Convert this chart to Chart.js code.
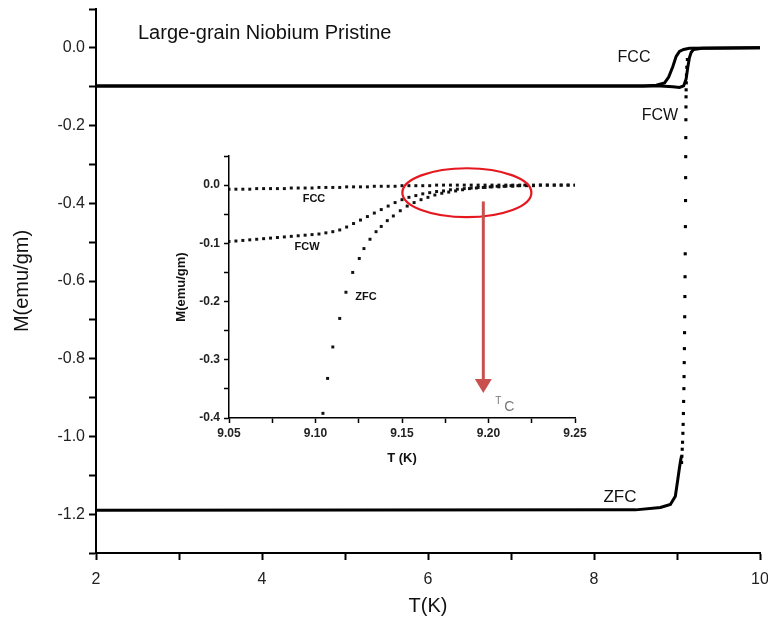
<!DOCTYPE html>
<html>
<head>
<meta charset="utf-8">
<title>Large-grain Niobium Pristine</title>
<script src="https://cdn.jsdelivr.net/npm/chart.js@4.4.1/dist/chart.umd.min.js"></script>
<style>
  body { margin: 0; background: #fff; }
  #wrap { position: relative; width: 768px; height: 622px; background: #fff; }
  #mainChart { position: absolute; left: 0; top: 0; }
  #insetChart { position: absolute; left: 160px; top: 146px; }
</style>
</head>
<body>
<div id="wrap">
  <canvas id="mainChart" width="768" height="622"></canvas>
  <canvas id="insetChart" width="430" height="330"></canvas>
</div>
<script>
// Main plot: M vs T, 2 - 10 K
const mainFccT = [2, 8.6, 8.75, 8.85, 8.9, 8.95, 8.99, 9.03, 9.08, 9.15, 10];
const mainFccM = [-0.098, -0.098, -0.096, -0.09, -0.075, -0.048, -0.022, -0.009, -0.004, -0.001, 0];
const mainFcwT = [2, 8.8, 8.95, 9.03, 9.08, 9.11, 9.13, 9.15, 9.17, 9.2, 9.3, 10];
const mainFcwM = [-0.098, -0.098, -0.1, -0.102, -0.098, -0.08, -0.05, -0.025, -0.012, -0.004, -0.001, 0];
const mainZfcT = [2, 8.5, 8.8, 8.92, 8.98, 9.01, 9.03, 9.045, 9.055];
const mainZfcM = [-1.19, -1.189, -1.183, -1.175, -1.154, -1.11, -1.08, -1.06, -1.05];
// sparse points of the ZFC jump
const zfcJumpT = [9.125, 9.118, 9.114, 9.112, 9.110, 9.109, 9.108, 9.107, 9.106, 9.105, 9.104, 9.103, 9.101, 9.099,
  9.097, 9.095, 9.093, 9.091, 9.089, 9.087, 9.085, 9.083, 9.080, 9.077, 9.074, 9.071, 9.067, 9.063, 9.059, 9.055];
const zfcJumpM = [-0.03, -0.05, -0.07, -0.09, -0.108, -0.126, -0.152, -0.185, -0.231, -0.28, -0.334, -0.393, -0.46, -0.53,
  -0.589, -0.64, -0.692, -0.733, -0.774, -0.81, -0.846, -0.877, -0.91, -0.941, -0.969, -0.992, -1.015, -1.033, -1.051, -1.067];

// Inset: 9.05 - 9.25 K
const insetT = [9.050, 9.054, 9.058, 9.062, 9.066, 9.070, 9.074, 9.078, 9.082, 9.086, 9.090, 9.094, 9.098,
  9.102, 9.106, 9.110, 9.114, 9.118, 9.122, 9.126, 9.130, 9.134, 9.138, 9.142, 9.146, 9.150, 9.154, 9.158,
  9.162, 9.166, 9.170, 9.174, 9.178, 9.182, 9.186, 9.190, 9.194, 9.198, 9.202, 9.206, 9.210, 9.214, 9.218,
  9.222, 9.226, 9.230, 9.234, 9.238, 9.242, 9.246, 9.250];
const insetFccM = [-0.007, -0.007, -0.007, -0.007, -0.006, -0.006, -0.006, -0.006, -0.006, -0.005, -0.005, -0.005, -0.005,
  -0.004, -0.004, -0.004, -0.004, -0.003, -0.003, -0.003, -0.003, -0.002, -0.002, -0.002, -0.002, -0.001, -0.001, -0.001,
  -0.001, -0.001, 0, 0, 0, 0, 0, 0, 0, 0, 0, 0, 0, 0, 0,
  0, 0, 0, 0, 0, 0, 0, 0];
const insetFcwM = [-0.097, -0.096, -0.095, -0.094, -0.093, -0.092, -0.091, -0.09, -0.089, -0.088, -0.087, -0.086, -0.085,
  -0.084, -0.082, -0.08, -0.077, -0.072, -0.066, -0.06, -0.054, -0.048, -0.042, -0.036, -0.03, -0.025, -0.021, -0.018,
  -0.015, -0.013, -0.011, -0.01, -0.008, -0.007, -0.006, -0.005, -0.004, -0.004, -0.003, -0.003, -0.002, -0.002, -0.001,
  -0.001, -0.001, 0, 0, 0, 0, 0, 0];
const insetZfcT = [9.1043, 9.107, 9.110, 9.114, 9.1176, 9.1215, 9.1253, 9.128, 9.1315, 9.135, 9.138, 9.1415, 9.145,
  9.149, 9.153, 9.157, 9.161, 9.165, 9.169, 9.173, 9.177, 9.181, 9.185, 9.189, 9.193, 9.197, 9.201, 9.205, 9.209,
  9.213, 9.217, 9.221];
const insetZfcM = [-0.392, -0.332, -0.278, -0.229, -0.184, -0.15, -0.126, -0.109, -0.093, -0.08, -0.071, -0.061, -0.053,
  -0.044, -0.036, -0.03, -0.025, -0.021, -0.017, -0.014, -0.012, -0.01, -0.008, -0.006, -0.005, -0.004, -0.003, -0.002, -0.002,
  -0.001, -0.001, 0];

// Tc marker (inset data units)
const tcT = 9.197;
const tcArrowFrom = -0.028;
const tcArrowTo = -0.357;
const ringCenter = { x: 9.1875, y: -0.013 };
const ringRadius = { x: 0.0373, y: 0.042 };

const FONT = '"Liberation Sans", Arial, sans-serif';

function pts(xs, ys) {
  return xs.map((x, i) => ({ x: x, y: ys[i] }));
}

function axisStyle(tickLen, width) {
  return {
    border: { display: true, color: '#000', width: width },
    grid: { drawOnChartArea: false, drawTicks: true, tickLength: tickLen, tickColor: '#000', tickWidth: width }
  };
}

// fixed axis box so the plot area sits where the original has it
function fixX(h) {
  return s => { s.height = h; s.paddingLeft = 0; s.paddingRight = 0; };
}
function fixY(w) {
  return s => { s.width = w; s.paddingTop = 0; s.paddingBottom = 0; };
}

// text on the main plot
const mainLabels = {
  id: 'mainLabels',
  afterDraw(chart) {
    const c = chart.ctx;
    c.save();
    c.fillStyle = '#111';
    c.textBaseline = 'middle';
    c.textAlign = 'left';
    c.font = '20px ' + FONT;
    c.fillText('Large-grain Niobium Pristine', 138, 33);
    c.textAlign = 'center';
    c.font = '16px ' + FONT;
    c.fillText('FCC', 634, 58);
    c.fillText('FCW', 660, 116);
    c.font = '17px ' + FONT;
    c.fillText('ZFC', 620, 497);
    c.restore();
  }
};

new Chart(document.getElementById('mainChart'), {
  type: 'scatter',
  data: {
    datasets: [
      { data: pts(mainFccT, mainFccM), showLine: true, borderColor: '#000', borderWidth: 3, pointRadius: 0 },
      { data: pts(mainFcwT, mainFcwM), showLine: true, borderColor: '#000', borderWidth: 3, pointRadius: 0 },
      { data: pts(mainZfcT, mainZfcM), showLine: true, borderColor: '#000', borderWidth: 3, pointRadius: 0 },
      { data: pts(zfcJumpT, zfcJumpM), showLine: false, pointStyle: 'rect', pointRadius: 2.2,
        backgroundColor: '#000', borderWidth: 0 }
    ]
  },
  options: {
    responsive: false,
    animation: false,
    layout: { padding: { top: 9, right: 8, left: 0, bottom: 0 } },
    plugins: { legend: { display: false }, tooltip: { enabled: false } },
    scales: {
      x: Object.assign(axisStyle(7, 2), {
        min: 2, max: 10,
        afterFit: fixX(69),
        ticks: {
          stepSize: 1, maxRotation: 0, padding: 10, color: '#222',
          font: { family: FONT, size: 16 },
          callback: v => (v % 2 === 0 ? String(v) : '')
        },
        title: { display: true, text: 'T(K)', color: '#111', font: { family: FONT, size: 20 }, padding: { top: 2, bottom: 4 } }
      }),
      y: Object.assign(axisStyle(7, 2), {
        min: -1.3, max: 0.1,
        afterFit: fixY(96),
        ticks: {
          stepSize: 0.1, padding: 4, color: '#222',
          font: { family: FONT, size: 16 },
          callback: v => (Math.round(v * 10) % 2 === 0 ? v.toFixed(1) : '')
        },
        title: { display: true, text: 'M(emu/gm)', color: '#111', font: { family: FONT, size: 20 }, padding: { top: 10, bottom: 0 } }
      })
    }
  },
  plugins: [mainLabels]
});

// ring, arrow and labels on the inset
const insetMarks = {
  id: 'insetMarks',
  afterDatasetsDraw(chart) {
    const c = chart.ctx;
    const x = chart.scales.x, y = chart.scales.y;
    c.save();
    // red ring
    const cx = x.getPixelForValue(ringCenter.x), cy = y.getPixelForValue(ringCenter.y);
    const rx = x.getPixelForValue(ringCenter.x + ringRadius.x) - cx;
    const ry = cy - y.getPixelForValue(ringCenter.y + ringRadius.y);
    c.strokeStyle = '#e5171f';
    c.lineWidth = 2.2;
    c.beginPath();
    c.ellipse(cx, cy, rx, ry, 0, 0, Math.PI * 2);
    c.stroke();
    // Tc arrow
    const ax = x.getPixelForValue(tcT);
    const y0 = y.getPixelForValue(tcArrowFrom), y1 = y.getPixelForValue(tcArrowTo);
    c.strokeStyle = '#c8504f';
    c.fillStyle = '#c8504f';
    c.lineWidth = 3;
    c.beginPath();
    c.moveTo(ax, y0);
    c.lineTo(ax, y1 - 12);
    c.stroke();
    c.beginPath();
    c.moveTo(ax - 8.5, y1 - 14);
    c.lineTo(ax + 8.5, y1 - 14);
    c.lineTo(ax, y1);
    c.closePath();
    c.fill();
    // Tc text
    c.fillStyle = '#777';
    c.textBaseline = 'middle';
    c.textAlign = 'left';
    c.font = '10px ' + FONT;
    c.fillText('T', ax + 12, y1 + 8);
    c.font = '14px ' + FONT;
    c.fillText('C', ax + 21, y1 + 14);
    // curve labels
    c.fillStyle = '#111';
    c.textAlign = 'center';
    c.font = 'bold 11px ' + FONT;
    c.fillText('FCC', 154, 53);
    c.fillText('FCW', 147, 101);
    c.fillText('ZFC', 206, 151);
    c.restore();
  }
};

const dotStyle = { showLine: false, pointStyle: 'rect', pointRadius: 2.1, backgroundColor: '#111', borderWidth: 0 };

new Chart(document.getElementById('insetChart'), {
  type: 'scatter',
  data: {
    datasets: [
      Object.assign({ data: pts(insetT, insetFccM) }, dotStyle),
      Object.assign({ data: pts(insetT, insetFcwM) }, dotStyle),
      Object.assign({ data: pts(insetZfcT, insetZfcM) }, dotStyle)
    ]
  },
  options: {
    responsive: false,
    animation: false,
    layout: { padding: { top: 10, right: 15, left: 0, bottom: 0 } },
    plugins: { legend: { display: false }, tooltip: { enabled: false } },
    scales: {
      x: Object.assign(axisStyle(5, 1.5), {
        min: 9.05, max: 9.25,
        afterFit: fixX(58),
        ticks: {
          stepSize: 0.025, maxRotation: 0, padding: 3, color: '#222',
          font: { family: FONT, size: 12, weight: 'bold' },
          callback: v => (Math.round(v * 1000) % 50 === 0 ? v.toFixed(2) : '')
        },
        title: { display: true, text: 'T (K)', color: '#111', font: { family: FONT, size: 13, weight: 'bold' }, padding: { top: 2, bottom: 10 } }
      }),
      y: Object.assign(axisStyle(5, 1.5), {
        min: -0.4, max: 0.05,
        afterFit: fixY(69),
        ticks: {
          stepSize: 0.05, padding: 4, color: '#222',
          font: { family: FONT, size: 12, weight: 'bold' },
          callback: v => (Math.round(v * 100) % 10 === 0 && v < 0.01 ? v.toFixed(1) : '')
        },
        title: { display: true, text: 'M(emu/gm)', color: '#111', font: { family: FONT, size: 13, weight: 'bold' }, padding: { top: 14, bottom: 0 } }
      })
    }
  },
  plugins: [insetMarks]
});
</script>
</body>
</html>
